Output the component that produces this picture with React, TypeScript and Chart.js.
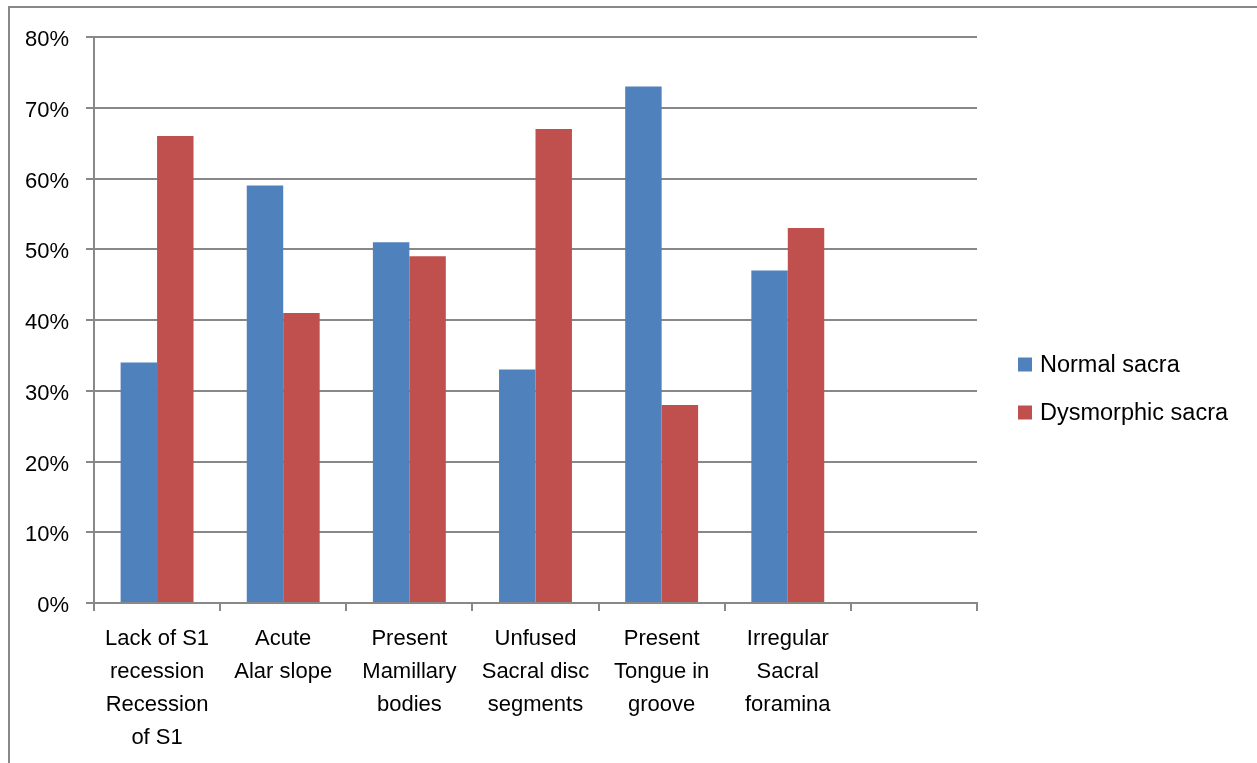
import React, { useEffect, useRef } from 'react';
import { Chart, registerables, Plugin } from 'chart.js';

Chart.register(...registerables);

// category labels, one array of lines per column (last column is empty)
const CATEGORIES: string[][] = [
  ['Lack of S1', 'recession', 'Recession', 'of S1'],
  ['Acute', 'Alar slope'],
  ['Present', 'Mamillary', 'bodies'],
  ['Unfused', 'Sacral disc', 'segments'],
  ['Present', 'Tongue in', 'groove'],
  ['Irregular', 'Sacral', 'foramina'],
  [''],
];

const NORMAL = [34, 59, 51, 33, 73, 47, null];
const DYSMORPHIC = [66, 41, 49, 67, 28, 53, null];

const SERIES_LABELS = ['Normal sacra', 'Dysmorphic sacra'];
const SERIES_COLORS = ['#4F81BD', '#C0504D'];

const Y_MAX = 80;
const Y_STEP = 10;

const FONT = '"Liberation Sans", Arial, sans-serif';
const AXIS_GREY = '#888888';

// outer frame of the chart object
const framePlugin: Plugin<'bar'> = {
  id: 'frame',
  beforeDraw(chart) {
    const { ctx, width, height } = chart;
    ctx.save();
    ctx.fillStyle = '#fff';
    ctx.fillRect(0, 0, width, height);
    ctx.strokeStyle = AXIS_GREY;
    ctx.lineWidth = 2;
    ctx.beginPath();
    ctx.moveTo(9, height + 5);
    ctx.lineTo(9, 7);
    ctx.lineTo(width + 5, 7);
    ctx.stroke();
    ctx.restore();
  },
};

// Excel-style legend on the right
const legendPlugin: Plugin<'bar'> = {
  id: 'sideLegend',
  afterDraw(chart) {
    const { ctx } = chart;
    ctx.save();
    ctx.font = `23.5px ${FONT}`;
    ctx.textBaseline = 'middle';
    ctx.textAlign = 'left';
    chart.data.datasets.forEach((ds, i) => {
      const cy = 364.5 + i * 48;
      ctx.fillStyle = ds.backgroundColor as string;
      ctx.fillRect(1018, cy - 7, 14, 14);
      ctx.fillStyle = '#000';
      ctx.fillText(ds.label ?? '', 1040, cy + 1);
    });
    ctx.restore();
  },
};

export default function App() {
  const canvasRef = useRef<HTMLCanvasElement | null>(null);

  useEffect(() => {
    if (!canvasRef.current) return;
    const ctx = canvasRef.current.getContext('2d');
    if (!ctx) return;

    const chart = new Chart(ctx, {
      type: 'bar',
      data: {
        labels: CATEGORIES,
        datasets: [
          {
            label: SERIES_LABELS[0],
            data: NORMAL,
            backgroundColor: SERIES_COLORS[0],
            categoryPercentage: 0.578,
            barPercentage: 1,
          },
          {
            label: SERIES_LABELS[1],
            data: DYSMORPHIC,
            backgroundColor: SERIES_COLORS[1],
            categoryPercentage: 0.578,
            barPercentage: 1,
          },
        ],
      },
      options: {
        responsive: false,
        animation: false,
        devicePixelRatio: 1,
        layout: { padding: { top: 37, right: 280, left: 0, bottom: 0 } },
        plugins: { legend: { display: false }, tooltip: { enabled: false } },
        scales: {
          x: {
            offset: true,
            grid: {
              offset: true,
              drawOnChartArea: false,
              drawTicks: true,
              tickLength: 8,
              color: AXIS_GREY,
              lineWidth: 2,
            },
            border: { display: true, color: AXIS_GREY, width: 2 },
            ticks: {
              autoSkip: false,
              maxRotation: 0,
              minRotation: 0,
              padding: 11,
              color: '#000',
              font: { family: FONT, size: 22, lineHeight: 1.5 },
            },
            afterFit(scale) {
              scale.height = 160;
            },
          },
          y: {
            min: 0,
            max: Y_MAX,
            ticks: {
              stepSize: Y_STEP,
              padding: 17,
              labelOffset: 3,
              color: '#000',
              font: { family: FONT, size: 22 },
              callback: (v) => `${v}%`,
            },
            grid: {
              drawTicks: true,
              tickLength: 8,
              color: AXIS_GREY,
              lineWidth: 2,
            },
            border: { display: true, color: AXIS_GREY, width: 2 },
            afterFit(scale) {
              scale.width = 94;
            },
          },
        },
      },
      plugins: [framePlugin, legendPlugin],
    });

    return () => chart.destroy();
  }, []);

  return (
    <div style={{ position: 'fixed', left: 0, top: 0, width: 1257, height: 763, background: '#fff' }}>
      <canvas ref={canvasRef} width={1257} height={763} style={{ display: 'block' }} />
    </div>
  );
}
